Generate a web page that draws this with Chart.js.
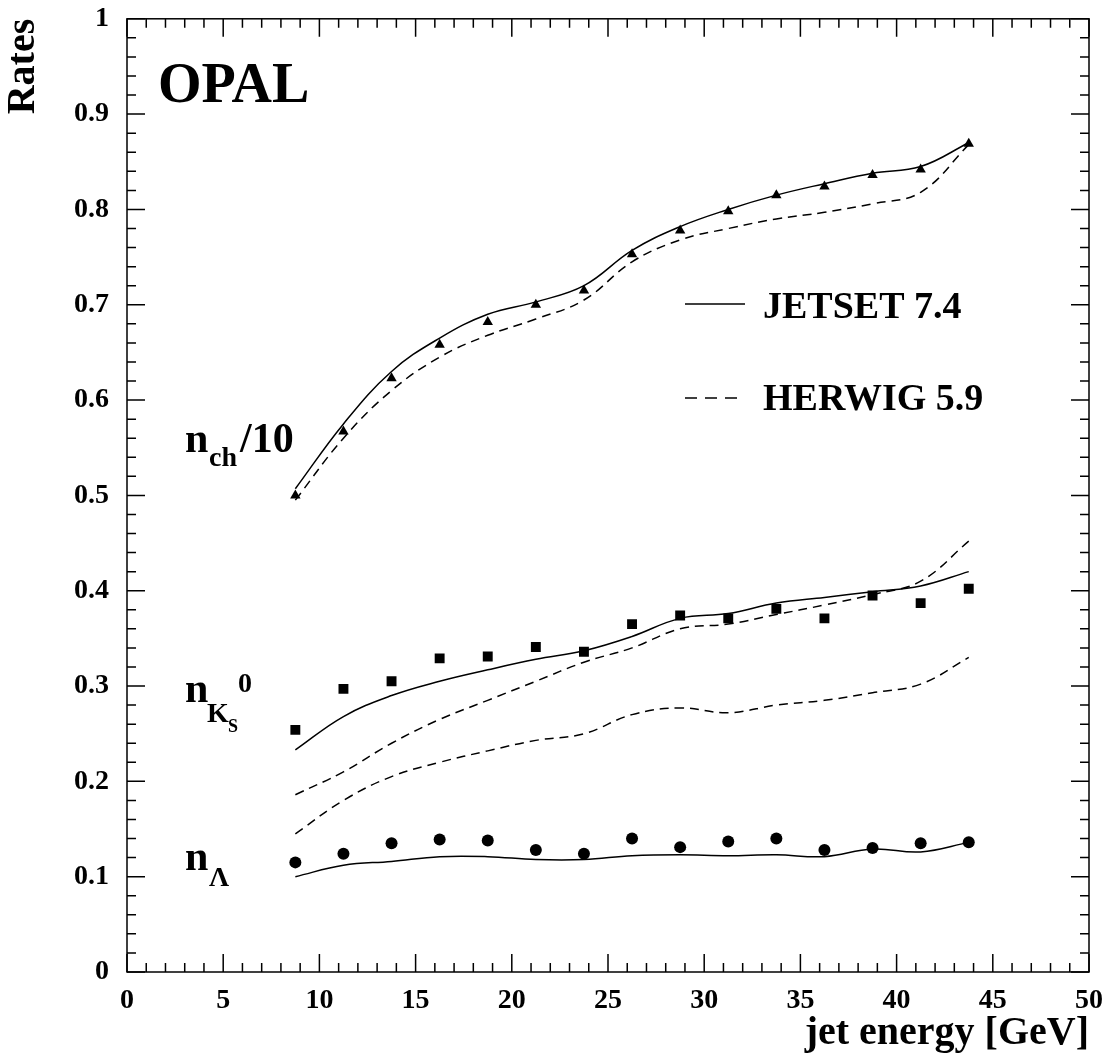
<!DOCTYPE html>
<html>
<head>
<meta charset="UTF-8" />
<script src="https://cdn.jsdelivr.net/npm/chart.js"></script>
<style>
  body { margin: 0; background: #fff; }
  #wrap { position: relative; width: 1113px; height: 1058px; overflow: hidden; }
  #myChart { position: absolute; left: 0; top: -8px; }
</style>
</head>
<body>
<div id="wrap"><canvas id="myChart" width="1113" height="1066"></canvas></div>
<script>
var energies = [8.75, 11.25, 13.75, 16.25, 18.75, 21.25, 23.75, 26.25, 28.75, 31.25, 33.75, 36.25, 38.75, 41.25, 43.75];
var nchData = [0.500, 0.567, 0.623, 0.658, 0.682, 0.700, 0.715, 0.753, 0.778, 0.798, 0.815, 0.824, 0.836, 0.842, 0.869];
var nkData = [0.254, 0.297, 0.305, 0.329, 0.331, 0.341, 0.336, 0.365, 0.374, 0.371, 0.381, 0.371, 0.395, 0.387, 0.402];
var nlData = [0.115, 0.124, 0.135, 0.139, 0.138, 0.128, 0.124, 0.140, 0.131, 0.137, 0.140, 0.128, 0.130, 0.135, 0.136];
var nchJetset = [0.507, 0.575, 0.630, 0.665, 0.690, 0.703, 0.720, 0.757, 0.782, 0.800, 0.815, 0.827, 0.838, 0.845, 0.870];
var nchHerwig = [0.495, 0.560, 0.610, 0.645, 0.668, 0.685, 0.705, 0.745, 0.768, 0.780, 0.790, 0.797, 0.806, 0.818, 0.868];
var nkJetset = [0.233, 0.268, 0.290, 0.305, 0.317, 0.328, 0.337, 0.352, 0.371, 0.376, 0.387, 0.393, 0.399, 0.405, 0.420];
var nkHerwig = [0.186, 0.210, 0.240, 0.265, 0.285, 0.305, 0.325, 0.340, 0.360, 0.365, 0.375, 0.385, 0.396, 0.410, 0.452];
var nlHerwig = [0.145, 0.180, 0.205, 0.220, 0.232, 0.243, 0.250, 0.270, 0.277, 0.272, 0.280, 0.285, 0.293, 0.302, 0.330];
var nlJetset = [0.100, 0.112, 0.116, 0.121, 0.121, 0.118, 0.118, 0.122, 0.123, 0.122, 0.123, 0.121, 0.129, 0.126, 0.136];

function pts(ys) { return energies.map(function (x, i) { return { x: x, y: ys[i] }; }); }
function line(ys, dashed) {
  return { type: "line", data: pts(ys), borderColor: "#000", borderWidth: 1.5, pointRadius: 0,
    tension: 0.4, borderDash: dashed ? [9, 6] : [], fill: false };
}
function marks(ys, style, r) {
  return { type: "scatter", data: pts(ys), pointStyle: style, pointRadius: r,
    backgroundColor: "#000", borderColor: "#000", borderWidth: 0 };
}

var SERIF = "'Liberation Serif', serif";
var DY = 8; // canvas is shifted up by this much

var frame = {
  id: "frame",
  afterDraw: function (chart) {
    var c = chart.ctx, a = chart.chartArea, xs = chart.scales.x, ys = chart.scales.y;
    c.save();
    c.strokeStyle = "#000"; c.lineWidth = 1.5;
    c.strokeRect(a.left, a.top, a.right - a.left, a.bottom - a.top);
    c.beginPath();
    for (var i = 0; i <= 50; i++) {
      var px = xs.getPixelForValue(i), L = i % 5 === 0 ? 18 : 9;
      c.moveTo(px, a.bottom); c.lineTo(px, a.bottom - L);
      c.moveTo(px, a.top); c.lineTo(px, a.top + L);
    }
    for (var j = 0; j <= 50; j++) {
      var py = ys.getPixelForValue(j / 50), M = j % 5 === 0 ? 18 : 9;
      c.moveTo(a.left, py); c.lineTo(a.left + M, py);
      c.moveTo(a.right, py); c.lineTo(a.right - M, py);
    }
    c.stroke();
    c.translate(0, DY);
    c.fillStyle = "#000"; c.textBaseline = "alphabetic";
    c.font = "bold 56px " + SERIF;
    c.fillText("OPAL", 158, 102);
    c.font = "bold 42px " + SERIF;
    c.fillText("n", 185, 452);
    c.font = "bold 28px " + SERIF;
    c.fillText("ch", 209, 466);
    c.font = "bold 42px " + SERIF;
    c.fillText("/10", 240, 452);
    c.fillText("n", 185, 702);
    c.font = "bold 28px " + SERIF;
    c.fillText("K", 207, 722);
    c.fillText("0", 238, 692);
    c.font = "bold 18px " + SERIF;
    c.fillText("S", 228, 732);
    c.font = "bold 42px " + SERIF;
    c.fillText("n", 185, 870);
    c.font = "bold 28px " + SERIF;
    c.fillText("\u039b", 209, 886);
    c.font = "bold 38px " + SERIF;
    c.fillText("JETSET 7.4", 763, 318);
    c.fillText("HERWIG 5.9", 763, 410);
    c.lineWidth = 1.5;
    c.beginPath(); c.moveTo(685, 304); c.lineTo(745, 304); c.stroke();
    c.setLineDash([12, 8]);
    c.beginPath(); c.moveTo(685, 398); c.lineTo(745, 398); c.stroke();
    c.restore();
  }
};

new Chart(document.getElementById("myChart"), {
  data: {
    datasets: [
      line(nchJetset, false), line(nchHerwig, true),
      line(nkJetset, false), line(nkHerwig, true), line(nlHerwig, true), line(nlJetset, false),
      marks(nchData, "triangle", 6), marks(nkData, "rect", 7), marks(nlData, "circle", 6)
    ]
  },
  options: {
    responsive: false, animation: false,
    layout: { padding: { left: 0, right: 24, top: 12, bottom: 0 } },
    plugins: { legend: { display: false }, tooltip: { enabled: false } },
    scales: {
      x: {
        type: "linear", min: 0, max: 50,
        afterFit: function (s) { s.height = 86; },
        ticks: { stepSize: 5, color: "#000", font: { family: SERIF, size: 28, weight: "bold" }, padding: 4 },
        grid: { display: false }, border: { display: false },
        title: { display: true, text: "jet energy [GeV]", align: "end", color: "#000",
          font: { family: SERIF, size: 40, weight: "bold" }, padding: { top: 0, bottom: 0 } }
      },
      y: {
        min: 0, max: 1,
        afterFit: function (s) { s.width = 127; },
        ticks: { stepSize: 0.1, color: "#000", font: { family: SERIF, size: 28, weight: "bold" }, padding: 10,
          callback: function (v) { return v === 0 ? "0" : v === 1 ? "1" : v.toFixed(1); } },
        grid: { display: false }, border: { display: false },
        title: { display: true, text: "Rates", align: "end", color: "#000",
          font: { family: SERIF, size: 40, weight: "bold" }, padding: { top: 0, bottom: 14 } }
      }
    }
  },
  plugins: [frame]
});
</script>
</body>
</html>
